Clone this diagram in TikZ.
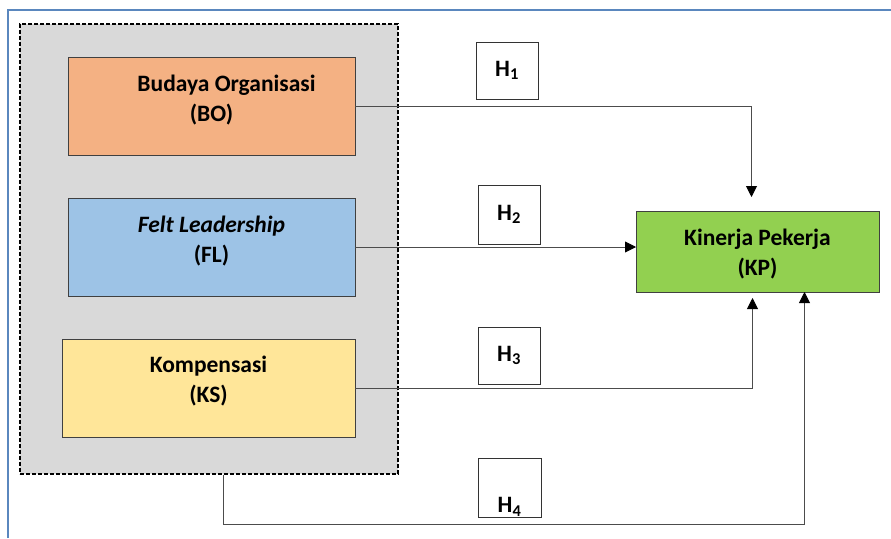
\documentclass[tikz,border=0pt]{standalone}
\usepackage{fontspec}
\setmainfont{Carlito}
\usetikzlibrary{%
  arrows.meta,%
  calc,%
}

\definecolor{frameblue}{RGB}{90,135,190}
\definecolor{groupgray}{RGB}{217,217,217}
\definecolor{boorange}{RGB}{244,177,131}
\definecolor{flblue}{RGB}{157,195,230}
\definecolor{ksyellow}{RGB}{255,230,153}
\definecolor{kpgreen}{RGB}{146,208,80}

\tikzset{
  varbox/.style={draw=black!75, line width=0.9pt, minimum width=287pt, minimum height=98pt, inner sep=0pt, outer sep=0pt},
  hbox/.style={draw=black!80, line width=0.8pt, fill=white, minimum width=62pt, minimum height=58pt, inner sep=0pt, outer sep=0pt},
  link/.style={draw=black!70, line width=0.9pt},
  arr/.style={link, -{Triangle[length=11pt, width=11pt, color=black]}},
}

\begin{document}
\begin{tikzpicture}[x=1pt, y=-1pt, font=\bfseries\fontsize{23.5}{30}\selectfont]
      \useasboundingbox (0,0) rectangle (891,538);
      \draw [frameblue, line width=1.5pt] (8,538) -- (8,10) -- (891,10);
      \node [fill=groupgray, draw=black, line width=1.1pt, dash pattern=on 4pt off 2pt, minimum width=378pt, minimum height=450pt, inner sep=0pt] (group) at (209,249) {};
      \node [varbox, fill=boorange] (bo) at (211.5,106) {};
      \node [align=center] (botext) at ([yshift=6pt]bo.center) {\hspace*{30pt}Budaya Organisasi \\ (BO)};
      \node [varbox, fill=flblue] (fl) at (211.5,247) {};
      \node [align=center] (fltext) at ([yshift=6pt]fl.center) {\textit{Felt Leadership} \\ (FL)};
      \node [varbox, fill=ksyellow, minimum width=293pt] (ks) at (208.5,388) {};
      \node [align=center] (kstext) at ([yshift=7pt]ks.center) {Kompensasi \\ (KS)};
      \node [varbox, fill=kpgreen, minimum width=243pt, minimum height=81pt] (kp) at (757.5,251.5) {};
      \node [align=center] (kptext) at ([yshift=-3pt]kp.center) {Kinerja Pekerja \\ (KP)};
      % hypothesis labels
      \node [hbox, minimum height=57pt] (h1) at (507,70.5) {H\textsubscript{1}};
      \node [hbox, minimum height=59pt] (h2) at (509,214.5) {H\textsubscript{2}};
      \node [hbox, minimum height=57pt] (h3) at (509,355.5) {H\textsubscript{3}};
      \node [hbox, minimum height=59pt, minimum width=63pt] (h4) at (509.5,487.5) {};
      \node (h4text) at ([yshift=10pt]h4.south) {H\textsubscript{4}};
      % paths
      \draw [arr, shorten >=14pt] (bo.east) -| ([xshift=-6pt]kp.north);
      \draw [arr] (fl.east) -- (fl.east -| kp.west);
      \draw [arr, shorten >=6pt] (ks.east) -| ([xshift=-5pt]kp.south);
      \draw [arr] ([xshift=14pt]group.south) -- ++(0,50) -| ([xshift=47pt]kp.south);
    \end{tikzpicture}
\end{document}
